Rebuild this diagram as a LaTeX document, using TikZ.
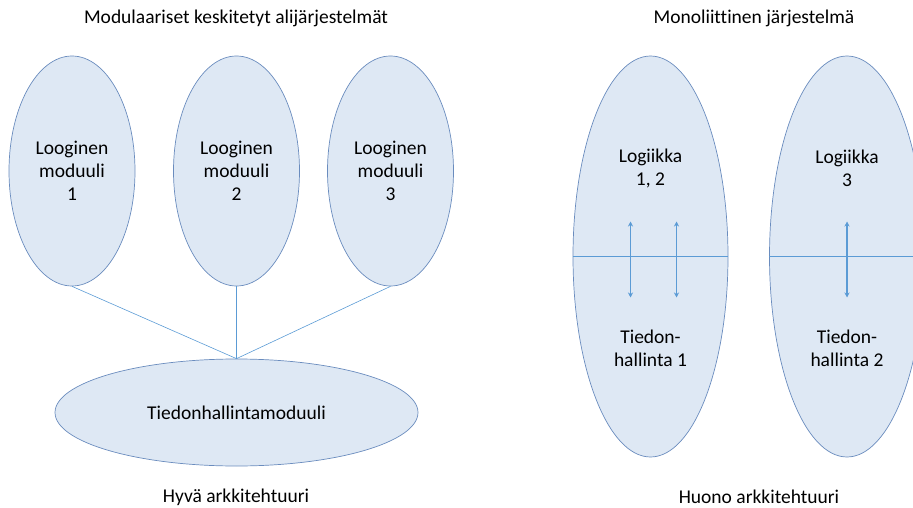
\documentclass[tikz,border=0pt]{standalone}
\usepackage{fontspec}
\setmainfont{Carlito}[Ligatures=NoCommon]
\usepackage{xcolor}
\usepackage{tikz}
\usetikzlibrary{positioning}
\usetikzlibrary{shapes}
\usetikzlibrary{arrows.meta}
\usetikzlibrary{calc}

\definecolor{osafill}{HTML}{DEE8F4}
\definecolor{osaline}{HTML}{6A8CBE}
\definecolor{viiva}{HTML}{5B9BD5}

\begin{document}
\begin{tikzpicture}[x=1pt, y=-1pt, font=\fontsize{19.5}{23}\selectfont,
	osa/.style = {ellipse, draw=osaline, fill=osafill, line width=0.7pt, inner sep=0pt, align=center},
	yhteys/.style = {draw=viiva, line width=0.6pt},
	nuoli/.style = {draw=viiva, line width=1.5pt, {Stealth[length=5pt,width=5pt]}-{Stealth[length=5pt,width=5pt]}}]
\useasboundingbox (0,0) rectangle (913,508);

\node (otsikko1) at (236,18) {Modulaariset keskitetyt alijärjestelmät};
\node (otsikko2) at (754,18) {Monoliittinen järjestelmä};

\node[osa, minimum width=126, minimum height=230] (moduuli1) at (72,171) {Looginen\\moduuli\\1};
\node[osa, minimum width=126, minimum height=230] (moduuli2) at (236.5,171) {Looginen\\moduuli\\2};
\node[osa, minimum width=126, minimum height=230] (moduuli3) at (390.5,171) {Looginen\\moduuli\\3};
\node[osa, minimum width=363, minimum height=107] (tiedon) at (236.5,412.5) {Tiedonhallintamoduuli};

\draw[yhteys] (moduuli1.south) -- (tiedon.north);
\draw[yhteys] (moduuli2.south) -- (tiedon.north);
\draw[yhteys] (moduuli3.south) -- (tiedon.north);

\node[osa, minimum width=155, minimum height=401] (mono1) at (650.5,256.5) {};
\node[osa, minimum width=155, minimum height=401] (mono2) at (847,256.5) {};

\node[align=center] (logiikka1) at ($(mono1.center)+(0,-88)$) {Logiikka\\1, 2};
\node[align=center] (tieto1) at ($(mono1.center)+(0,92)$) {Tiedon-\\hallinta 1};
\node[align=center] (logiikka2) at ($(mono2.center)+(0,-88)$) {Logiikka\\3};
\node[align=center] (tieto2) at ($(mono2.center)+(0,92)$) {Tiedon-\\hallinta 2};

\draw[yhteys, line width=1pt] (mono1.west) -- (mono1.east);
\draw[yhteys, line width=1pt] (mono2.west) -- (mono2.east);

\coordinate (ylos1) at ($(mono1.center)+(-20,-35)$);
\coordinate (alas1) at ($(mono1.center)+(-20,41)$);
\coordinate (ylos2) at ($(mono1.center)+(26,-35)$);
\coordinate (alas2) at ($(mono1.center)+(26,41)$);
\coordinate (ylos3) at ($(mono2.center)+(0,-35)$);
\coordinate (alas3) at ($(mono2.center)+(0,41)$);
\draw[nuoli] (ylos1) -- (alas1);
\draw[nuoli] (ylos2) -- (alas2);
\draw[nuoli] (ylos3) -- (alas3);

\node (arvio1) at (236,497) {Hyvä arkkitehtuuri};
\node (arvio2) at (759,497) {Huono arkkitehtuuri};
\end{tikzpicture}
\end{document}
